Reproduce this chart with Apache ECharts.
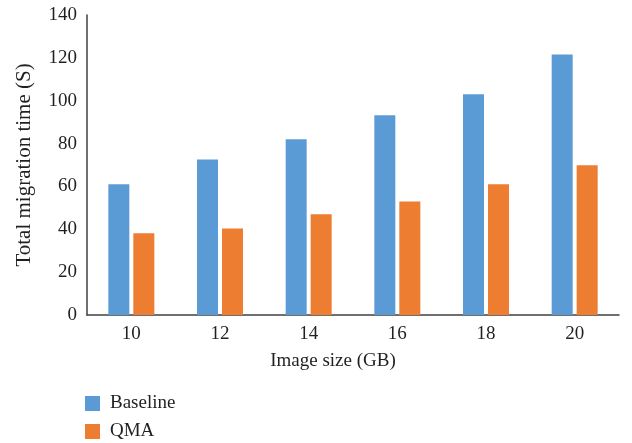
<!DOCTYPE html>
<html><head><meta charset="utf-8">
<script src="https://cdn.jsdelivr.net/npm/echarts@6/dist/echarts.min.js"></script>
<style>html,body{margin:0;padding:0;background:#fff}#c{width:632px;height:443px}</style>
</head><body><div id="c"></div>
<script>
const categories = ['10', '12', '14', '16', '18', '20'];
const baseline = [61, 72.6, 82, 93.2, 103, 121.6];
const qma = [38.1, 40.4, 47, 53, 61, 69.9];
const seriesNames = ['Baseline', 'QMA'];
const font = '"Liberation Serif", "DejaVu Serif", serif';
const txt = '#231f20';
const chart = echarts.init(document.getElementById('c'));
const legendBase = {
  orient: 'vertical', left: 85, itemWidth: 15, itemHeight: 15, padding: 0,
  icon: 'rect', textStyle: {fontFamily: font, fontSize: 19, color: txt, padding: [0, 0, 0, 5]}
};
chart.setOption({
  animation: false,
  textStyle: {fontFamily: font},
  grid: {left: 87, right: 13, top: 15, bottom: 128},
  legend: [
    Object.assign({}, legendBase, {top: 394, data: [seriesNames[0]]}),
    Object.assign({}, legendBase, {top: 422, data: [seriesNames[1]]})
  ],
  xAxis: {
    type: 'category', data: categories,
    axisLine: {lineStyle: {color: '#404040', width: 1.5}},
    axisTick: {show: false},
    axisLabel: {fontFamily: font, fontSize: 19, color: txt, margin: 10},
    name: 'Image size (GB)', nameLocation: 'middle', nameGap: 37,
    nameTextStyle: {fontFamily: font, fontSize: 19, color: txt, padding: [0, 40, 0, 0]}
  },
  yAxis: {
    type: 'value', min: 0, max: 140, interval: 20,
    axisLine: {show: true, lineStyle: {color: '#404040', width: 1.5}},
    axisTick: {show: false},
    splitLine: {show: false},
    axisLabel: {fontFamily: font, fontSize: 19, color: txt, margin: 10},
    name: 'Total migration time (S)', nameLocation: 'middle', nameGap: 52,
    nameTextStyle: {fontFamily: font, fontSize: 21, color: txt}
  },
  series: [
    {name: seriesNames[0], type: 'bar', data: baseline, barWidth: 21, barGap: '19%', itemStyle: {color: '#5B9BD5'}},
    {name: seriesNames[1], type: 'bar', data: qma, barWidth: 21, barGap: '19%', itemStyle: {color: '#ED7D31'}}
  ]
});
</script></body></html>
